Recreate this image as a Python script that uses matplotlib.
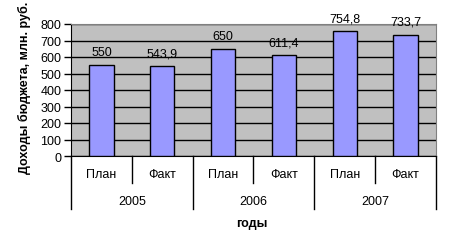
import matplotlib
matplotlib.use("Agg")
import matplotlib.pyplot as plt
from matplotlib.transforms import blended_transform_factory

years = ["2005", "2006", "2007"]
kinds = ["План", "Факт"]
values = [550, 543.9, 650, 611.4, 754.8, 733.7]
value_labels = ["550", "543,9", "650", "611,4", "754,8", "733,7"]
yticks = [0, 100, 200, 300, 400, 500, 600, 700, 800]

plt.rcParams['font.family'] = ['Liberation Sans', 'DejaVu Sans']
plt.rcParams['font.size'] = 9

fig = plt.figure(figsize=(4.52, 2.51), dpi=100)
W, H = 452, 251
ax = fig.add_axes([71 / W, 1 - 157 / H, (436 - 71) / W, (157 - 25) / H])
ax.set_facecolor('#C0C0C0')

x = list(range(len(values)))
ax.bar(x, values, width=0.4, color='#9999FF', edgecolor='black', linewidth=1, zorder=3)
for xi, v, lab in zip(x, values, value_labels):
    ax.annotate(lab, (xi, v), xytext=(0, 5), textcoords='offset points',
                ha='center', va='bottom', fontsize=9, zorder=4, annotation_clip=False)

ax.set_xlim(-0.5, len(values) - 0.5)
ax.set_ylim(0, 800)
ax.set_yticks(yticks)
ax.set_yticklabels([str(t) for t in yticks])
ax.yaxis.grid(True, color='black', linewidth=1, zorder=1)
ax.set_axisbelow(True)
ax.tick_params(axis='y', direction='out', length=5, width=1, pad=2)
ax.set_xticks([])
ax.spines['left'].set_color('black')
ax.spines['bottom'].set_color('black')
ax.spines['top'].set_color('#808080')
ax.spines['right'].set_color('#808080')

trans = blended_transform_factory(ax.transData, fig.transFigure)
y0 = 1 - 157 / H
y_mid = 1 - 184 / H
y_low = 1 - 210 / H
# separators
for b in [-0.5, 1.5, 3.5, 5.5]:
    ax.plot([b, b], [y0, y_low], transform=trans, color='black', lw=1, clip_on=False)
for b in [0.5, 2.5, 4.5]:
    ax.plot([b, b], [y0, y_mid], transform=trans, color='black', lw=1, clip_on=False)
for i, xi in enumerate(x):
    ax.text(xi, 1 - 175 / H, kinds[i % 2], transform=trans, ha='center', va='center', fontsize=9)
for j, yr in enumerate(years):
    ax.text(2 * j + 0.5, 1 - 202 / H, yr, transform=trans, ha='center', va='center', fontsize=9)

fig.text(252 / W, 1 - 224 / H, "годы", ha='center', va='center', fontsize=9, fontweight='bold')
fig.text(24 / W, 1 - 88 / H, "Доходы бюджета, млн. руб.", rotation=90,
         ha='center', va='center', fontsize=9, fontweight='bold')

fig.savefig("out.png", dpi=100)
